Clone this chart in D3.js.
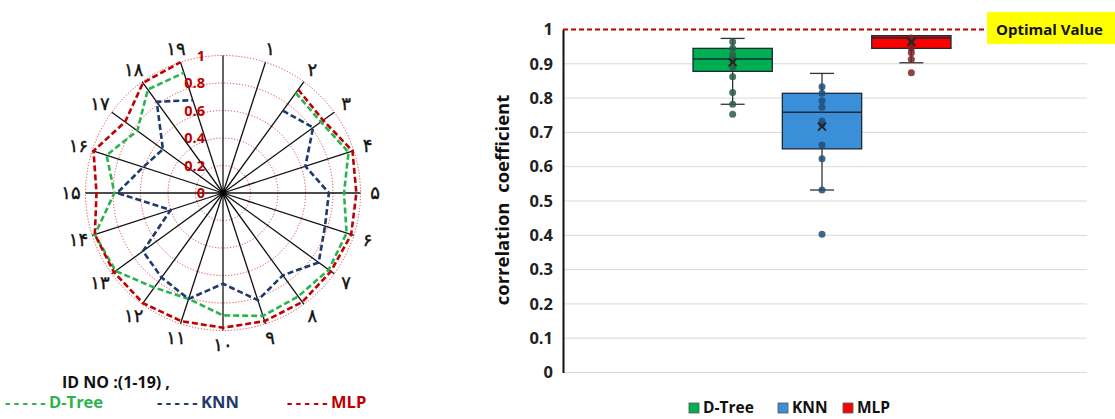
<!DOCTYPE html>
<html><head><meta charset="utf-8">
<script src="https://cdn.jsdelivr.net/npm/d3@7"></script>
<style>body{margin:0;background:#fff} svg{display:block}</style>
</head><body>
<svg id="c" width="1115" height="419"></svg>
<script>
// ---------- Radar data ----------
const radarIds = ["۱","۲","۳","۴","۵","۶","۷","۸","۹","۱۰","۱۱","۱۲","۱۳","۱۴","۱۵","۱۶","۱۷","۱۸","۱۹"];
const dtreeRadar = [null,0.90,0.88,0.96,0.88,0.945,0.95,0.93,0.94,0.89,0.81,0.85,0.965,0.98,0.79,0.89,0.77,0.93,0.92];
const knnRadar   = [null,0.74,0.81,0.63,0.77,0.78,0.86,0.74,0.82,0.66,0.81,0.76,0.72,0.40,0.77,0.61,0.54,0.82,0.71];
const mlpRadar   = [null,0.93,0.90,0.99,0.97,0.98,0.97,0.98,0.98,0.98,0.98,0.99,0.98,0.98,0.92,0.99,0.88,0.99,1.0];
const ringTicks = [0,0.2,0.4,0.6,0.8,1];
const radarLegend = ["D-Tree","KNN","MLP"];

// ---------- Box plot data ----------
const models = ["D-Tree","KNN","MLP"];
const boxQ1 = [0.878,0.652,0.945];
const boxMedian = [0.914,0.759,0.975];
const boxQ3 = [0.945,0.814,0.982];
const whiskerLow = [0.782,0.532,0.903];
const whiskerHigh = [0.974,0.872,0.982];
const boxMean = [0.905,0.717,0.964];
const dtreePoints = [0.964,0.945,0.926,0.91,0.89,0.862,0.816,0.782,0.753];
const knnPoints = [0.833,0.814,0.792,0.773,0.733,0.724,0.663,0.623,0.532,0.403];
const mlpPoints = [0.975,0.964,0.945,0.932,0.913,0.874];
const yTicks = [0,0.1,0.2,0.3,0.4,0.5,0.6,0.7,0.8,0.9,1];
const optimalValue = 1;

const svg = d3.select("#c");
const FONT = "'Open Sans', Lato, sans-serif";

// ================= RADAR =================
const cx = 223, cy = 193, R = 137.5;
const nAxes = 20;
const rScale = d3.scaleLinear().domain([0,1]).range([0,R]);
const ang = d3.scaleLinear().domain([0,nAxes]).range([0,2*Math.PI]);
const rg = svg.append("g").attr("transform",`translate(${cx},${cy})`);

rg.selectAll("circle.ring").data(ringTicks.filter(d=>d>0)).join("circle")
  .attr("r",d=>rScale(d)).attr("fill","none")
  .attr("stroke","#e03030").attr("stroke-width",0.9).attr("stroke-dasharray","1.2,1.8");
rg.selectAll("line.spoke").data(d3.range(nAxes)).join("line")
  .attr("x1",0).attr("y1",0)
  .attr("x2",i=>rScale(1)*Math.sin(ang(i)))
  .attr("y2",i=>-rScale(1)*Math.cos(ang(i)))
  .attr("stroke","#111").attr("stroke-width",1.3);
rg.append("circle").attr("r",3.5).attr("fill","#000");

rg.selectAll("text.rl").data(ringTicks).join("text")
  .attr("x",-18).attr("y",d=>-rScale(d)).attr("dy","0.35em")
  .attr("text-anchor","end")
  .attr("font-family",FONT).attr("font-weight","bold").attr("font-size",14.5)
  .attr("fill","#c00000").text(d=>d);

rg.selectAll("text.id").data(radarIds).join("text")
  .attr("x",(d,i)=>152*Math.sin(ang(i+1)))
  .attr("y",(d,i)=>-152*Math.cos(ang(i+1)))
  .attr("dy","0.35em").attr("text-anchor","middle")
  .attr("font-family","'DejaVu Sans', sans-serif").attr("font-size",18)
  .attr("stroke","#111").attr("stroke-width",0.4)
  .attr("direction","ltr").attr("fill","#111").text(d=>d);

const radial = d3.lineRadial()
  .defined(d=>d.v!=null)
  .angle(d=>ang(d.i)).radius(d=>rScale(d.v));
const series = [
  {vals:dtreeRadar,color:"#2bb34f"},
  {vals:knnRadar,color:"#1f3a6e"},
  {vals:mlpRadar,color:"#c00000"}
];
series.forEach(s=>{
  rg.append("path")
    .datum(s.vals.map((v,k)=>({i:k+1,v})))
    .attr("d",radial).attr("fill","none")
    .attr("stroke",s.color).attr("stroke-width",2.6)
    .attr("stroke-dasharray","6,3");
});

svg.append("text").attr("x",62).attr("y",382).attr("dy","0.35em")
  .attr("font-family",FONT).attr("font-weight","bold").attr("font-size",16)
  .attr("fill","#111").text("ID NO :(1-19) ,");
const rlegX = [5,157,287];
const rlegC = ["#2bb34f","#1f3a6e","#c00000"];
const rl = svg.selectAll("text.rleg").data(radarLegend).join("text")
  .attr("x",(d,i)=>rlegX[i]).attr("y",402).attr("dy","0.35em")
  .attr("font-family",FONT).attr("font-weight","bold").attr("font-size",16.5)
  .attr("fill",(d,i)=>rlegC[i]);
rl.append("tspan").attr("letter-spacing",3.5).text("-----");
rl.append("tspan").text(d=>d);

// ================= BOX PLOT =================
const x0 = 563, x1 = 1087;
const y = d3.scaleLinear().domain([0,1]).range([372.5,29.5]);
const xb = d3.scaleBand().domain(models).range([693,951]).paddingInner(0.1125);
const bg = svg.append("g");

bg.selectAll("line.grid").data(yTicks.filter(d=>d<1)).join("line")
  .attr("x1",x0).attr("x2",x1).attr("y1",d=>y(d)).attr("y2",d=>y(d))
  .attr("stroke","#d9d9d9").attr("stroke-width",1);

const yAxis = d3.axisLeft(y).tickValues(yTicks).tickSize(0).tickPadding(10)
  .tickFormat(d=>String(+d.toFixed(1)));
const ga = bg.append("g").attr("transform",`translate(${x0},0)`).call(yAxis);
ga.select(".domain").attr("stroke","#111").attr("stroke-width",2);
ga.selectAll("text").attr("font-family",FONT).attr("font-weight","bold")
  .attr("font-size",16.5).attr("fill","#222");

svg.append("text").attr("transform",`translate(509,200) rotate(-90)`)
  .attr("text-anchor","middle")
  .attr("font-family",FONT).attr("font-weight","bold").attr("font-size",18.5)
  .attr("fill","#111").attr("xml:space","preserve").text("correlation  coefficient");

bg.append("line").attr("x1",x0).attr("x2",986).attr("y1",y(optimalValue)).attr("y2",y(optimalValue))
  .attr("stroke","#c00000").attr("stroke-width",2).attr("stroke-dasharray","5,3");
bg.append("rect").attr("x",987).attr("y",12).attr("width",128).attr("height",32).attr("fill","#ffff00");
bg.append("text").attr("x",996).attr("y",y(optimalValue)).attr("dy","0.35em")
  .attr("font-family",FONT).attr("font-weight","bold").attr("font-size",15)
  .attr("fill","#111").text("Optimal Value");

const fills = ["#00b050","#3a8fd8","#ff0000"];
const dotC = ["#2b5a44","#1f4e79","#7a2323"];
const pts = [dtreePoints,knnPoints,mlpPoints];
models.forEach((m,i)=>{
  const bx = xb(m), bw = xb.bandwidth(), mx = bx+bw/2;
  bg.append("line").attr("x1",mx).attr("x2",mx).attr("y1",y(whiskerHigh[i])).attr("y2",y(boxQ3[i]))
    .attr("stroke","#333").attr("stroke-width",1.3);
  bg.append("line").attr("x1",mx).attr("x2",mx).attr("y1",y(boxQ1[i])).attr("y2",y(whiskerLow[i]))
    .attr("stroke","#333").attr("stroke-width",1.3);
  [whiskerHigh[i],whiskerLow[i]].forEach(v=>{
    bg.append("line").attr("x1",mx-12).attr("x2",mx+12).attr("y1",y(v)).attr("y2",y(v))
      .attr("stroke","#333").attr("stroke-width",1.3);
  });
  bg.append("rect").attr("x",bx).attr("width",bw)
    .attr("y",y(boxQ3[i])).attr("height",y(boxQ1[i])-y(boxQ3[i]))
    .attr("fill",fills[i]).attr("stroke","#1a2a3a").attr("stroke-width",1.3);
  bg.append("line").attr("x1",bx).attr("x2",bx+bw).attr("y1",y(boxMedian[i])).attr("y2",y(boxMedian[i]))
    .attr("stroke","#1a2a3a").attr("stroke-width",1.5);
  bg.selectAll(null).data(pts[i]).join("circle")
    .attr("cx",mx).attr("cy",d=>y(d)).attr("r",3.5)
    .attr("fill",dotC[i]).attr("fill-opacity",0.85);
  const my = y(boxMean[i]);
  bg.append("path").attr("d",`M${mx-4},${my-4}L${mx+4},${my+4}M${mx-4},${my+4}L${mx+4},${my-4}`)
    .attr("stroke","#222").attr("stroke-width",1.8);
});

const legX = [689,778,843];
models.forEach((m,i)=>{
  svg.append("rect").attr("x",legX[i]).attr("y",403).attr("width",10).attr("height",10)
    .attr("fill",fills[i]).attr("stroke","#555").attr("stroke-width",0.8);
  svg.append("text").attr("x",legX[i]+14).attr("y",408).attr("dy","0.35em")
    .attr("font-family",FONT).attr("font-weight","bold").attr("font-size",15.5)
    .attr("fill","#111").text(m);
});
</script>
</body></html>
